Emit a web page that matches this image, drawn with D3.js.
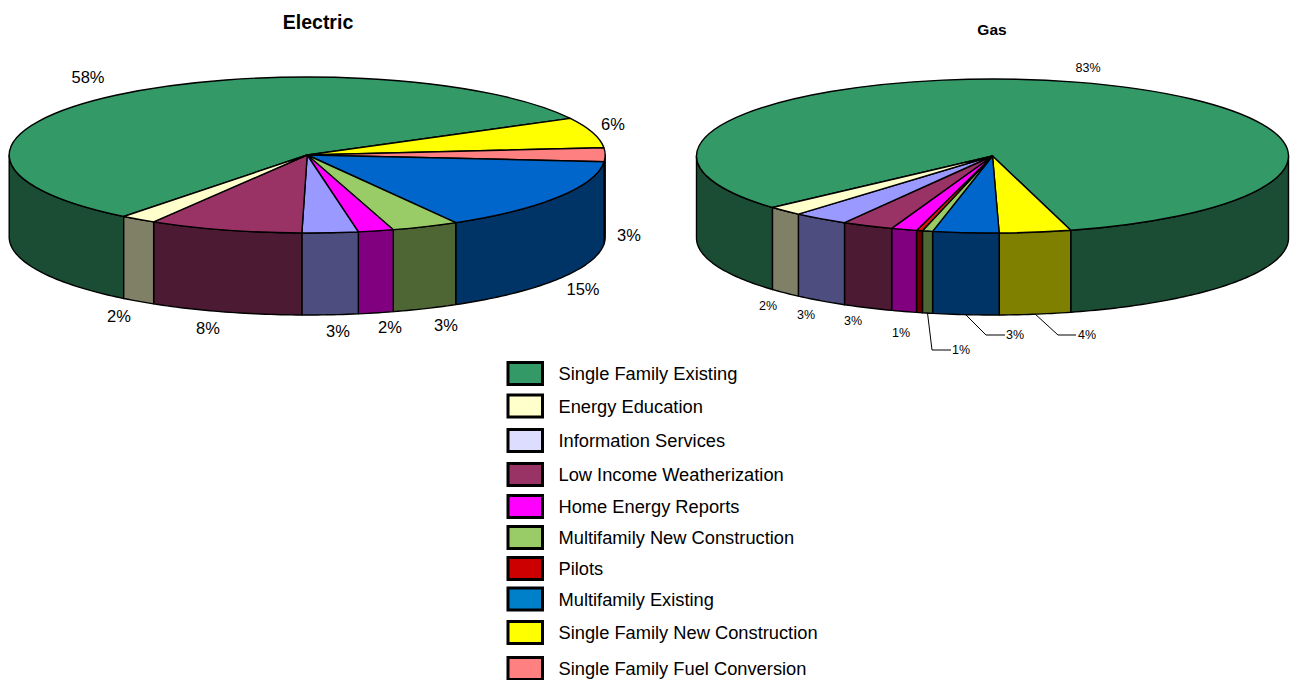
<!DOCTYPE html>
<html><head><meta charset="utf-8">
<style>html,body{margin:0;padding:0;background:#fff}svg{display:block}text{font-family:"Liberation Sans",Arial,sans-serif;fill:#000}</style>
<script src="https://cdn.jsdelivr.net/npm/d3@7"></script>
</head><body><svg id="c" width="1293" height="680"></svg>
<script>
// ---- data (clockwise from the start of the first slice) ----
const electricCategories = ["Single Family Existing","Single Family New Construction","Single Family Fuel Conversion","Multifamily Existing","Multifamily New Construction","Home Energy Reports","Information Services","Low Income Weatherization","Energy Education"];
const electricValues = [56.67,6.28,2.86,15.33,3.64,1.92,3.03,8.33,1.94];
const electricLabels = ["58%","6%","3%","15%","3%","2%","3%","8%","2%"];
const gasCategories = ["Single Family Existing","Single Family New Construction","Multifamily Existing","Multifamily New Construction","Pilots","Home Energy Reports","Low Income Weatherization","Information Services","Energy Education"];
const gasValues = [82.4,3.9,3.6,0.56,0.33,1.4,2.8,3.05,1.95];
const gasLabels = ["83%","4%","3%","1%","","1%","3%","3%","2%"];
const legendCategories = ["Single Family Existing","Energy Education","Information Services","Low Income Weatherization","Home Energy Reports","Multifamily New Construction","Pilots","Multifamily Existing","Single Family New Construction","Single Family Fuel Conversion"];

// ---- styles ----
const topColor = {"Single Family Existing":"#339966","Energy Education":"#FFFFCC","Information Services":"#9999FF","Low Income Weatherization":"#993366","Home Energy Reports":"#FF00FF","Multifamily New Construction":"#99CC66","Pilots":"#E01010","Multifamily Existing":"#0066CC","Single Family New Construction":"#FFFF00","Single Family Fuel Conversion":"#FF8080"};
const sideColor = {"Single Family Existing":"#1A4D33","Energy Education":"#808066","Information Services":"#4D4D80","Low Income Weatherization":"#4D1A33","Home Energy Reports":"#800080","Multifamily New Construction":"#4D6633","Pilots":"#660000","Multifamily Existing":"#003366","Single Family New Construction":"#808000","Single Family Fuel Conversion":"#804040"};
const legendColor = Object.assign({},topColor,{"Information Services":"#DDDDFF","Pilots":"#CC0000","Multifamily Existing":"#0080C8"});

// ---- layout ----
const deg = Math.PI/180;
const electricLayout = {cx:307.2,cy:155,rx:298,ry:78,depth:82,start:218,font:16.5,
  title:{text:"Electric",x:318,y:28.5,size:19.5},
  labelPos:[[88,77],[613,124],[629,235],[583,289],[446,325],[390,327],[338,331],[208,328],[119,316]]};
const gasLayout = {cx:992.5,cy:156,rx:296,ry:77,depth:82,start:228,font:12.5,
  title:{text:"Gas",x:992,y:35,size:15.5},
  labelPos:[[1088,68],[1087,335],[1015,335],[961,350],[0,0],[901,333],[853,321],[806,315],[768,306]],
  leaders:{1:[[1058,335],[1076,335]],2:[[986,335],[1005,335]],3:[[932,350],[951,350]]}};
const legendRowsY = [373.5,406,440.5,474.5,506.5,537.5,568.5,599,632.5,668.5];

const svg = d3.select("#c");

function drawPie(cats, values, labels, L){
  const g = svg.append("g");
  const slices = d3.pie().sort(null).value(d=>d)
    .startAngle(L.start*deg).endAngle((L.start+360)*deg)(values)
    .map((s,i)=>Object.assign(s,{cat:cats[i],label:labels[i],i}));
  const rim = (a,dy=0)=>{const p=d3.pointRadial(a,1);return [L.cx+L.rx*p[0],L.cy+L.ry*p[1]+dy];};

  // walls: only the parts of each slice on the front half of the cylinder
  const fronts = [[90*deg,270*deg],[450*deg,630*deg]];
  const walls = [];
  slices.forEach(s=>fronts.forEach(([a,b])=>{
    const s0=Math.max(s.startAngle,a), s1=Math.min(s.endAngle,b);
    if(s1>s0) walls.push({cat:s.cat,a0:s0,a1:s1});
  }));
  const line = d3.line();
  g.selectAll("path.wall").data(walls).join("path").attr("class","wall")
    .attr("d",w=>{
      const n=Math.max(2,Math.ceil((w.a1-w.a0)/deg));
      const as=d3.range(n+1).map(k=>w.a0+(w.a1-w.a0)*k/n);
      const pts=as.map(a=>rim(a)).concat(as.slice().reverse().map(a=>rim(a,L.depth)));
      return line(pts)+"Z";
    })
    .attr("fill",w=>sideColor[w.cat]).attr("stroke","#000").attr("stroke-width",1.4).attr("stroke-linejoin","round");

  // top face: d3.arc squashed to the ellipse
  const arc = d3.arc().innerRadius(0).outerRadius(L.rx);
  g.append("g").attr("transform",`translate(${L.cx},${L.cy}) scale(1,${L.ry/L.rx})`)
    .selectAll("path").data(slices).join("path")
    .attr("d",arc).attr("fill",s=>topColor[s.cat])
    .attr("stroke","#000").attr("stroke-width",1.4).attr("stroke-linejoin","round")
    .attr("vector-effect","non-scaling-stroke");

  // leaders
  if(L.leaders){
    g.selectAll("path.leader").data(slices.filter(s=>L.leaders[s.i])).join("path").attr("class","leader")
      .attr("d",s=>line([rim((s.startAngle+s.endAngle)/2,L.depth)].concat(L.leaders[s.i])))
      .attr("fill","none").attr("stroke","#000").attr("stroke-width",1);
  }
  // labels
  g.selectAll("text.lab").data(slices.filter(s=>s.label)).join("text").attr("class","lab")
    .attr("x",s=>L.labelPos[s.i][0]).attr("y",s=>L.labelPos[s.i][1])
    .attr("text-anchor","middle").attr("dominant-baseline","central")
    .attr("font-size",L.font).text(s=>s.label);
  // title
  g.append("text").attr("x",L.title.x).attr("y",L.title.y).attr("text-anchor","middle")
    .attr("font-size",L.title.size).attr("font-weight","bold").text(L.title.text);
}
drawPie(electricCategories,electricValues,electricLabels,electricLayout);
drawPie(gasCategories,gasValues,gasLabels,gasLayout);

// legend
const leg = svg.append("g").selectAll("g").data(legendCategories).join("g")
  .attr("transform",(d,i)=>`translate(0,${legendRowsY[i]})`);
leg.append("rect").attr("x",508).attr("y",-11).attr("width",34.5).attr("height",22)
  .attr("fill",d=>legendColor[d]).attr("stroke","#000").attr("stroke-width",3);
leg.append("text").attr("x",558.5).attr("y",0).attr("dominant-baseline","central")
  .attr("font-size",18.3).text(d=>d);
</script></body></html>
